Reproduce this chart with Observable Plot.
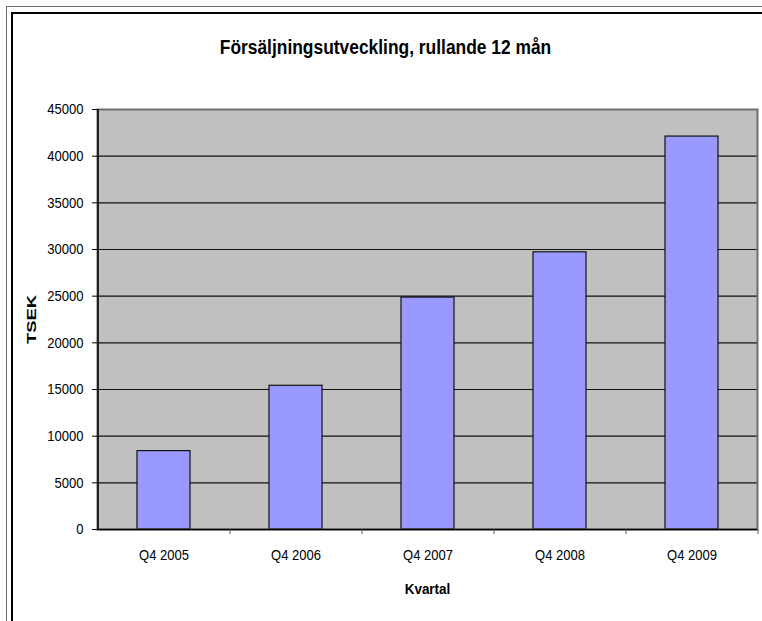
<!DOCTYPE html>
<html>
<head>
<meta charset="utf-8">
<script src="https://cdn.jsdelivr.net/npm/d3@7"></script>
<script src="https://cdn.jsdelivr.net/npm/@observablehq/plot@0.6"></script>
<style>
  html, body { margin: 0; padding: 0; background: #fff; overflow: hidden; }
  #wrap { position: relative; width: 762px; height: 621px; }
  .b1 { position: absolute; left: 6px; top: 6px; width: 800px; height: 700px; border-left: 1.5px solid #6e6e6e; border-top: 1.5px solid #6e6e6e; }
  .b2 { position: absolute; left: 11px; top: 12px; width: 800px; height: 700px; border-left: 2px solid #000; border-top: 2px solid #000; }
  #chart { position: absolute; left: 0; top: 0; }
</style>
</head>
<body>
<div id="wrap">
  <div class="b1"></div>
  <div class="b2"></div>
  <div id="chart"></div>
</div>
<script>
const title = "Försäljningsutveckling, rullande 12 mån";
const xTitle = "Kvartal";
const yTitle = "TSEK";
const categories = ["Q4 2005", "Q4 2006", "Q4 2007", "Q4 2008", "Q4 2009"];
const values = [8400, 15400, 24850, 29700, 42100];
const yTicks = [0, 5000, 10000, 15000, 20000, 25000, 30000, 35000, 40000, 45000];

const data = categories.map((c, i) => ({kvartal: c, value: values[i]}));
const font = "'Liberation Sans', Arial, sans-serif";

const chart = Plot.plot({
  width: 762,
  height: 621,
  marginLeft: 97,
  marginRight: 5,
  marginTop: 109,
  marginBottom: 92,
  style: {fontFamily: font, fontSize: "15px", color: "#000", background: "transparent", overflow: "visible"},
  x: {domain: categories, paddingInner: 0.6, paddingOuter: 0.3, label: null},
  y: {domain: [0, 45000], label: null},
  marks: [
    Plot.frame({fill: "#C0C0C0", stroke: "none"}),
    Plot.gridY(yTicks, {stroke: "#111", strokeOpacity: 1, strokeWidth: 1.2}),
    Plot.barY(data, {x: "kvartal", y: "value", fill: "#9999FF", stroke: "#111", strokeWidth: 1.2}),
    Plot.frame({stroke: "#6e6e6e", strokeWidth: 2}),
    Plot.ruleY([0], {stroke: "#000", strokeWidth: 1.5}),
    Plot.ruleX([categories[0]], {dx: -66, stroke: "#000", strokeWidth: 1.5}),
    Plot.ruleX(categories, {dx: 66, stroke: "#555", strokeWidth: 1, insetTop: 420, insetBottom: -5}),
    Plot.axisY(yTicks, {tickSize: 5, tickPadding: 9, label: null, tickFormat: d => String(d)}),
    Plot.axisX({tickSize: 0, tickPadding: 20, label: null}),
    Plot.text([yTitle], {frameAnchor: "left", dx: -66, rotate: -90, textAnchor: "middle", fontWeight: "bold", fill: "#000"}),
    Plot.text([xTitle], {frameAnchor: "bottom", dy: 64, fontWeight: "bold", fill: "#000"}),
    Plot.text([title], {frameAnchor: "top", dx: -42, dy: -70, fontWeight: "bold", fill: "#000"})
  ]
});

// Reference text is horizontally condensed: set sizes and scale each label about its anchor.
chart.querySelectorAll("text").forEach(t => {
  const txt = t.textContent;
  let size = 15, s = "scale(0.87,1)";
  if (txt === yTitle) { size = 16; s = "scale(1.15,0.8)"; }
  else if (txt === xTitle) { size = 15.5; }
  else if (txt === title) { size = 20; }
  t.style.fontSize = size + "px";
  const tr = t.getAttribute("transform") || "";
  t.setAttribute("transform", `${tr} ${s}`);
});
document.getElementById("chart").appendChild(chart);
</script>
</body>
</html>
